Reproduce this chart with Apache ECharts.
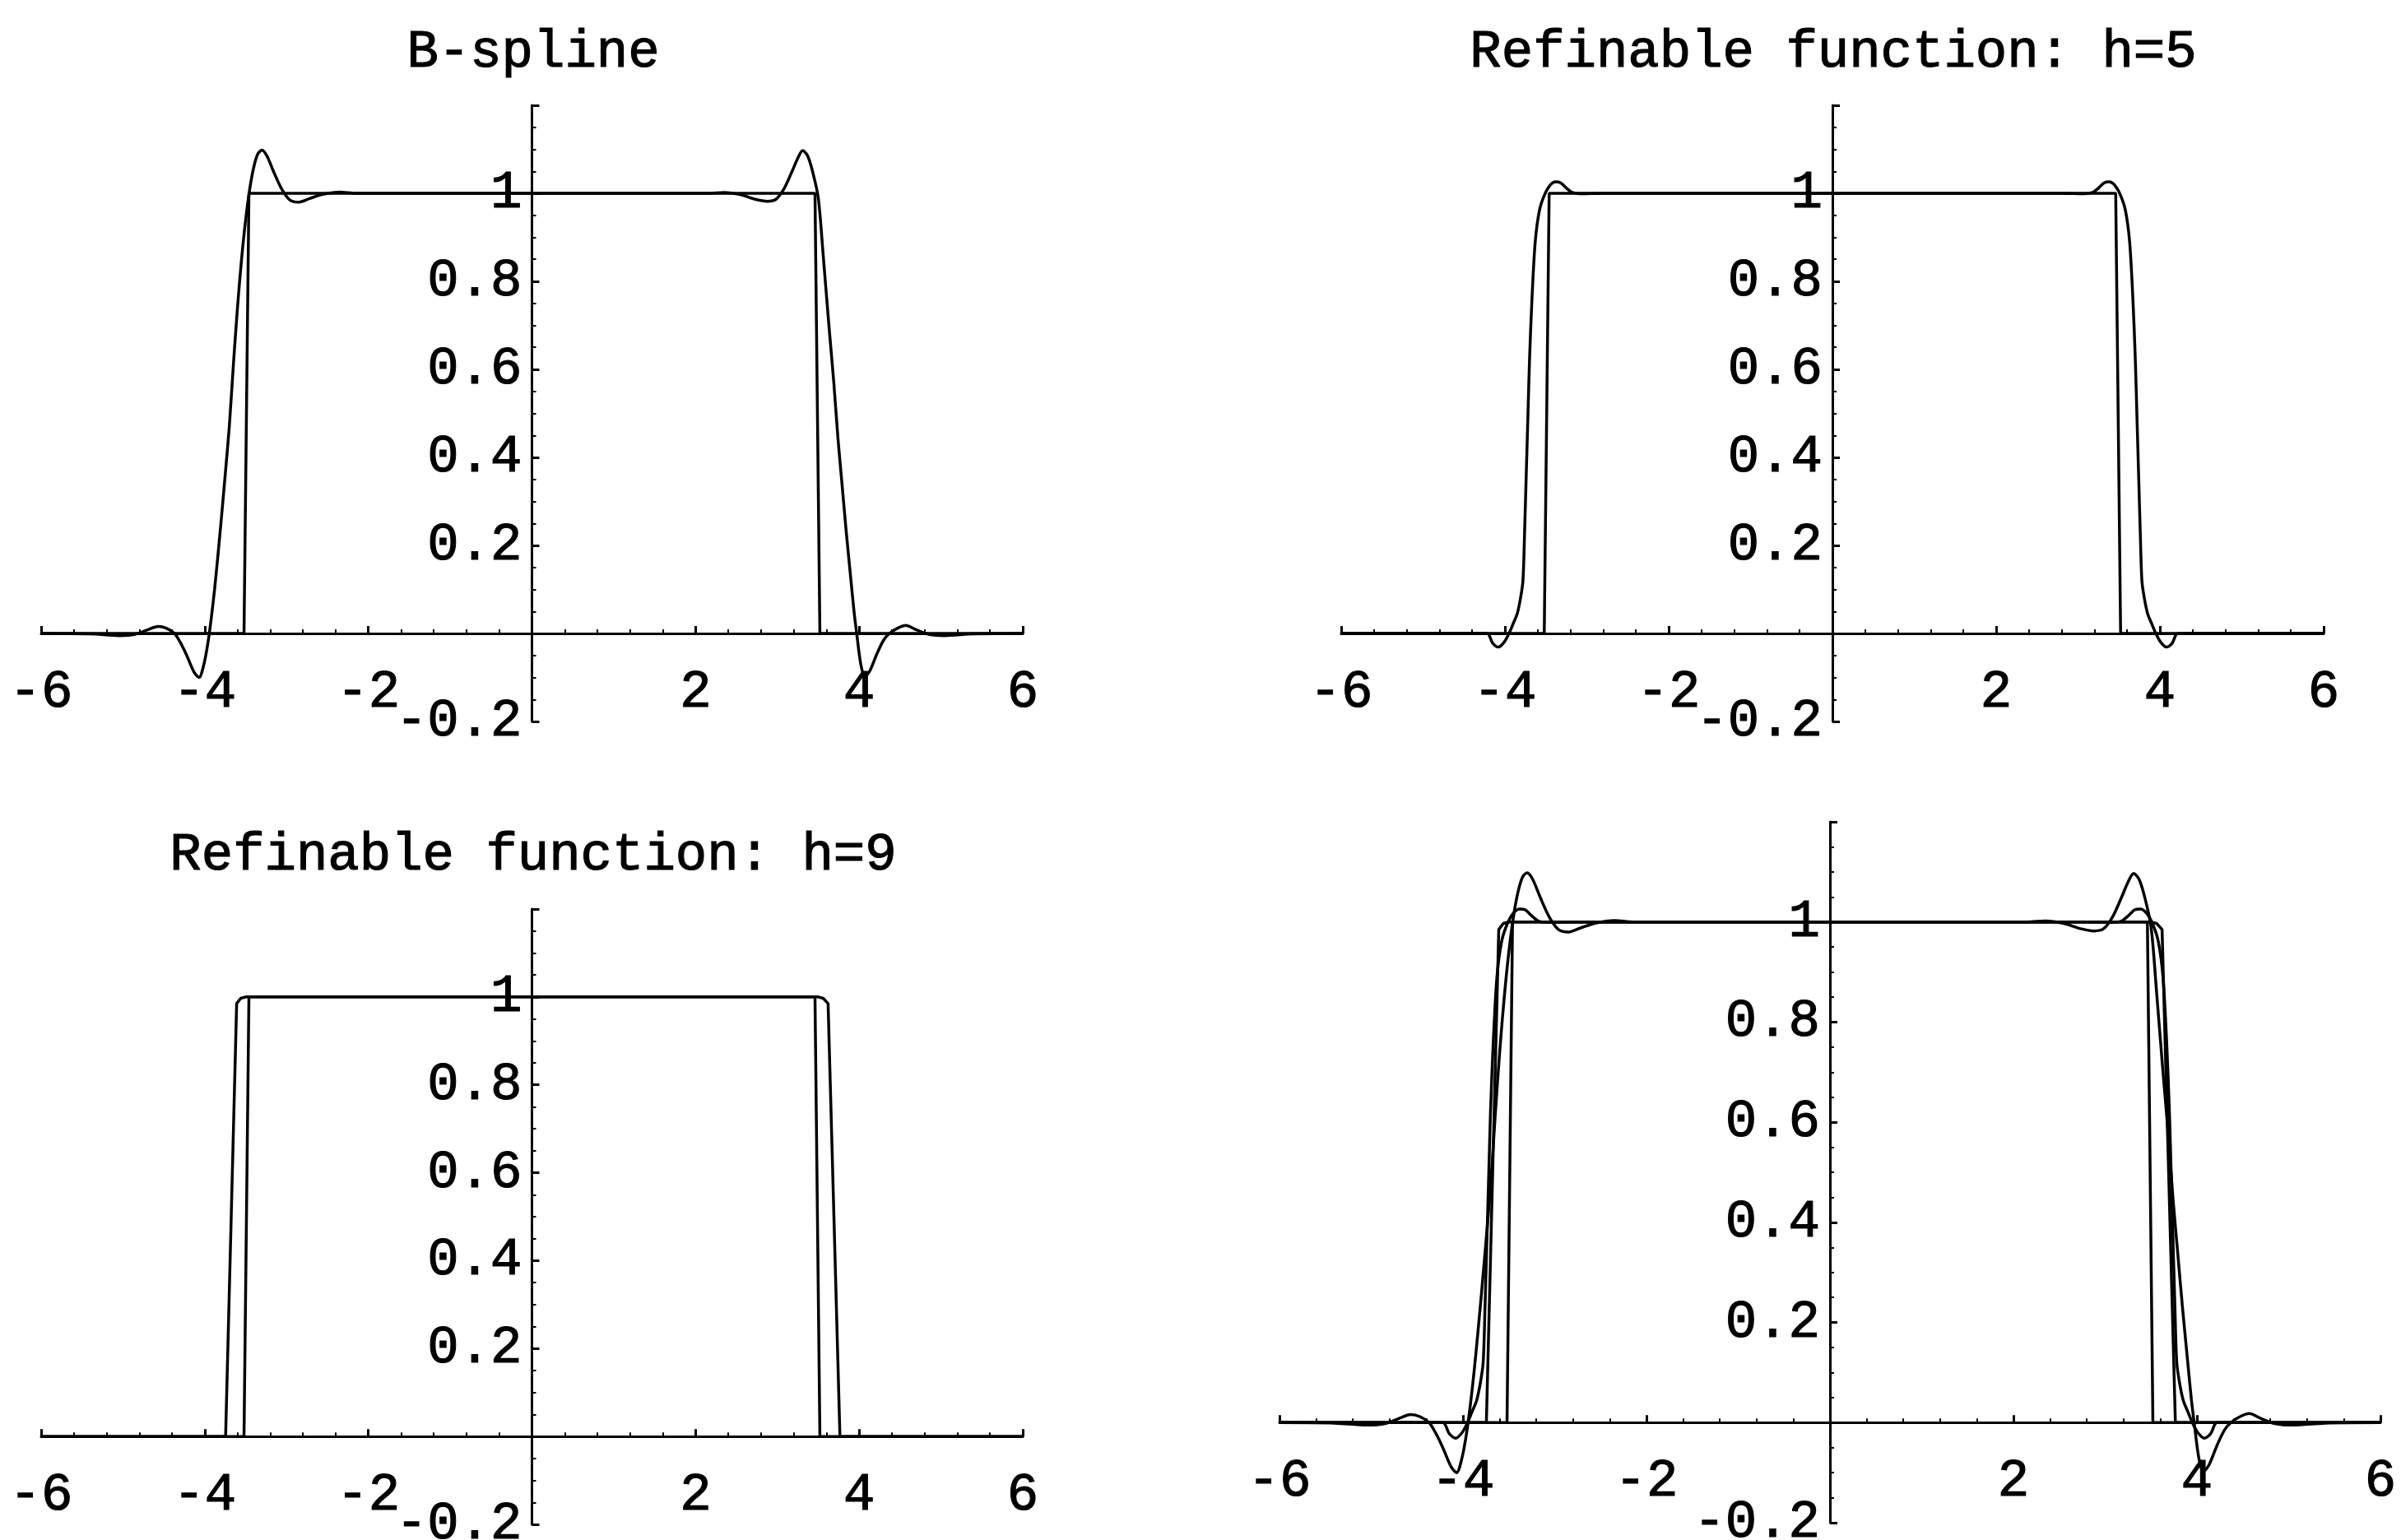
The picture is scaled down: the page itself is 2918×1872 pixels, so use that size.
<!DOCTYPE html>
<html>
<head>
<meta charset="utf-8">
<title>B-spline / refinable functions</title>
<script src="https://cdn.jsdelivr.net/npm/echarts@6/dist/echarts.min.js"></script>
<style>
    html, body { margin: 0; padding: 0; background: #fff; }
    #main { width: 2918px; height: 1872px; }
</style>
</head>
<body>
<div id="main"></div>
<script>
// 数据：B-spline 曲线（带过冲）
const bsplineX = [-6, -5.4, -5.04, -4.85, -4.7, -4.57, -4.47, -4.37, -4.3, -4.22, -4.13, -4.07, -4.01, -3.96, -3.92, -3.88,
    -3.84, -3.8, -3.75, -3.7, -3.65, -3.6, -3.55, -3.5, -3.45, -3.4, -3.35, -3.3, -3.24, -3.16, -3.06, -2.96, -2.85,
    -2.72, -2.55, -2.35, -2.15, -1.5, 0, 1.5, 2.15, 2.35, 2.55, 2.72, 2.88, 2.98, 3.08, 3.18, 3.25, 3.31, 3.37, 3.43,
    3.5, 3.56, 3.63, 3.69, 3.74, 3.79, 3.84, 3.9, 3.94, 3.97, 4.02, 4.07, 4.13, 4.22, 4.3, 4.37, 4.47, 4.57, 4.7, 4.85,
    5.04, 5.4, 6];
const bsplineY = [0, -0.001, -0.005, -0.002, 0.008, 0.016, 0.012, 0, -0.02, -0.05, -0.088, -0.1, -0.07, -0.02, 0.035, 0.1,
    0.175, 0.255, 0.36, 0.47, 0.61, 0.74, 0.85, 0.94, 1.01, 1.06, 1.09, 1.098, 1.085, 1.05, 1.01, 0.985, 0.98,
    0.988, 0.998, 1.003, 1, 1, 1, 1, 1, 1.002, 0.997, 0.987, 0.982, 0.986, 1.01, 1.05, 1.08, 1.097, 1.085, 1.05,
    0.99, 0.86, 0.7, 0.57, 0.445, 0.34, 0.235, 0.12, 0.045, 0, -0.07, -0.098, -0.085, -0.045, -0.015, 0, 0.012, 0.018, 0.008, -0.002,
    -0.005, -0.001, 0];
// 数据：refinable function h=5
const h5X = [-6, -4.6, -4.22, -4.15, -4.08, -4.01, -3.95, -3.9, -3.85, -3.81, -3.78, -3.76, -3.74, -3.72, -3.7, -3.67,
    -3.63, -3.58, -3.52, -3.45, -3.38, -3.32, -3.25, -3.18, -3.08, -2.8, 0, 2.8, 3.08, 3.18, 3.25, 3.32, 3.38, 3.45,
    3.52, 3.58, 3.63, 3.67, 3.7, 3.72, 3.74, 3.76, 3.78, 3.81, 3.85, 3.9, 3.95, 4.01, 4.08, 4.15, 4.22, 4.6, 6];
const h5Y = [0, 0, 0, -0.022, -0.031, -0.02, 0, 0.022, 0.045, 0.08, 0.12, 0.23, 0.36, 0.49, 0.62, 0.76,
    0.89, 0.96, 0.995, 1.018, 1.026, 1.024, 1.012, 1.002, 0.999, 1, 1, 1, 0.999, 1.002, 1.012, 1.024, 1.026, 1.018,
    0.995, 0.96, 0.89, 0.76, 0.62, 0.49, 0.36, 0.23, 0.12, 0.08, 0.045, 0.022, 0, -0.02, -0.031, -0.022, 0, 0, 0];
// 数据：refinable function h=9
const h9X = [-6, -3.745, -3.61, -3.56, -3.5, 3.5, 3.56, 3.62, 3.765, 6];
const h9Y = [0, 0, 0.985, 0.997, 1, 1, 0.997, 0.985, 0, 0];
// 数据：矩形函数
const boxX = [-6, -3.52, -3.46, 3.46, 3.52, 6];
const boxY = [0, 0, 1, 1, 0, 0];
// 刻度标签
const xLabels = [-6, -4, -2, 2, 4, 6];
const yLabels = [-0.2, 0.2, 0.4, 0.6, 0.8, 1];
const titles = ["B-spline", "Refinable function: h=5", "Refinable function: h=9", ""];

(function () {
    const my_echart = echarts.init(document.querySelector("#main")); //实例化echarts对象
    const font = "Liberation Mono";
    const pairs = (xs, ys) => xs.map((x, i) => [x, ys[i]]);
    const curves = {
        bspline: { data: pairs(bsplineX, bsplineY), smooth: 0.3 },
        h5: { data: pairs(h5X, h5Y), smooth: 0.3 },
        h9: { data: pairs(h9X, h9Y), smooth: false },
        box: { data: pairs(boxX, boxY), smooth: false }
    };
    // 四个子图的位置（网格边界 = x:-6..6, y:-0.2..1.2）
    const panels = [
        { left: 50, top: 128, width: 1193, height: 749, title: [648, 64], lines: ["bspline", "box"] },
        { left: 1630, top: 128, width: 1194, height: 749, title: [2228, 64], lines: ["h5", "box"] },
        { left: 50, top: 1105, width: 1193, height: 748, title: [648, 1040], lines: ["h9", "box"] },
        { left: 1555, top: 999, width: 1338, height: 852, title: null, lines: ["bspline", "h5", "h9", "box"] }
    ];
    const lineStyle = { color: "#000", width: 3 };
    const labelStyle = { color: "#000", fontFamily: font, fontSize: 64, textBorderColor: "#000", textBorderWidth: 1.2 };

    let series = [];
    panels.forEach(function (p, i) {
        p.lines.forEach(function (name) {
            series.push({
                type: "line",
                xAxisIndex: i,
                yAxisIndex: i,
                data: curves[name].data,
                smooth: curves[name].smooth,
                symbol: "none",
                silent: true,
                lineStyle: { color: "#000", width: 3.5 }
            });
        });
    });

    let option = {
        animation: false,
        backgroundColor: "#fff",
        grid: panels.map(p => ({
            left: p.left, top: p.top, width: p.width, height: p.height,
            outerBoundsMode: "none", containLabel: false
        })),
        // 坐标轴移到原点处：用 offset 平移整条轴（含刻度和标签）
        xAxis: panels.map((p, i) => ({
            type: "value", gridIndex: i, min: -6, max: 6, interval: 2,
            position: "bottom", offset: -p.height * 0.2 / 1.4,
            axisLine: { onZero: false, lineStyle: lineStyle },
            axisTick: { inside: true, length: 9, lineStyle: lineStyle },
            minorTick: { show: true, splitNumber: 5, length: 5, lineStyle: { color: "#000", width: 2 } },
            splitLine: { show: false },
            axisLabel: Object.assign({ customValues: xLabels, margin: 40, formatter: v => String(v) }, labelStyle)
        })),
        yAxis: panels.map((p, i) => ({
            type: "value", gridIndex: i, min: -0.2, max: 1.2, interval: 0.2,
            position: "left", offset: -p.width / 2,
            axisLine: { onZero: false, lineStyle: lineStyle },
            axisTick: { inside: true, length: 9, lineStyle: lineStyle },
            minorTick: { show: true, splitNumber: 4, length: 5, lineStyle: { color: "#000", width: 2 } },
            splitLine: { show: false },
            axisLabel: Object.assign({ customValues: yLabels, margin: 12, formatter: v => String(+v.toFixed(1)) }, labelStyle)
        })),
        graphic: panels.filter(p => p.title).map((p, i) => ({
            type: "text",
            x: p.title[0],
            y: p.title[1],
            style: {
                text: titles[i], fill: "#000", font: "64px '" + font + "'",
                stroke: "#000", lineWidth: 1.2,
                align: "center", verticalAlign: "middle", textAlign: "center", textVerticalAlign: "middle"
            }
        })),
        series: series
    }; //配置项
    my_echart.setOption(option); //指定配置项
})();
</script>
</body>
</html>
